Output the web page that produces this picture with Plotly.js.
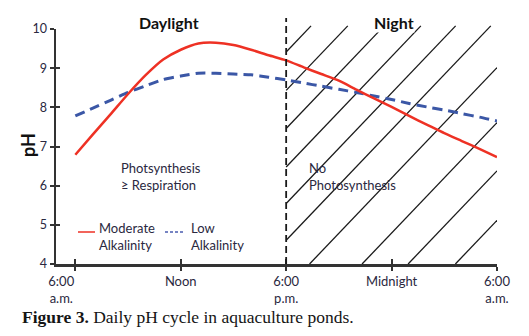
<!DOCTYPE html>
<html><head><meta charset="utf-8">
<script src="https://cdn.plot.ly/plotly-3.0.1.min.js"></script>
<style>html,body{margin:0;padding:0;background:#fff}#chart{width:529px;height:336px}</style>
</head><body><div id="chart"></div>
<script>
// ---- data ----
const hours = [6,7,8,9,10,11,12,13,14,15,16,17,18,19,20,21,22,23,24,25,26,27,28,29,30];
const moderateAlk = [6.79,7.31,7.82,8.34,8.82,9.22,9.47,9.63,9.65,9.59,9.47,9.33,9.20,9.02,8.85,8.68,8.45,8.23,8.01,7.78,7.56,7.34,7.14,6.94,6.73];
const lowAlk = [7.78,7.98,8.18,8.38,8.55,8.71,8.80,8.87,8.87,8.85,8.83,8.77,8.70,8.62,8.54,8.46,8.38,8.29,8.20,8.10,8.01,7.93,7.84,7.75,7.65];
const seriesNames = ['Moderate<br>Alkalinity', 'Low<br>Alkalinity'];
const tickHours = [6,12,18,24,30];
const tickLabels = ['6:00<br>a.m.','Noon','6:00<br>p.m.','Midnight','6:00<br>a.m.'];
const labelHours = [5.2,12,18,24,30];
const yTicks = [4,5,6,7,8,9,10];
const nightStart = 18;
const hatchIntercepts = [6.48,8.57,10.64,12.73,14.71,16.71,19.33,22.32,24.94,27.63];

// ---- geometry / style ----
const W = 529, H = 336, ML = 56, MR = 32, MT = 29, MB = 72;
const PW = W - ML - MR, PH = H - MT - MB;
const xRange = [4.9, 30], yRange = [4, 10];
const px2x = p => (p - ML) / PW;
const py2y = p => (H - MB - p) / PH;
const ph2paper = v => (v - yRange[0]) / (yRange[1] - yRange[0]);
const RED = '#ee3124', BLUE = '#3b57a6', INK = '#2a2840', AX = '#333333';
const FONT = 'Lato, "Open Sans", sans-serif';

const traces = [
  {x: hours, y: lowAlk, mode: 'lines', name: seriesNames[1],
   line: {color: BLUE, width: 3, dash: '10px,6px', shape: 'spline', smoothing: 0.6}, hoverinfo: 'skip'},
  {x: hours, y: moderateAlk, mode: 'lines', name: seriesNames[0],
   line: {color: RED, width: 2.5, shape: 'spline', smoothing: 0.6}, hoverinfo: 'skip'},
  {x: [], y: [], xaxis: 'x2', yaxis: 'y2', showlegend: false, hoverinfo: 'skip'},
  {x: [], y: [], xaxis: 'x3', yaxis: 'y', showlegend: false, hoverinfo: 'skip'}
];

const shapes = [];
// hatching of the night region
const k = 0.47, hatchTop = 10.08;
hatchIntercepts.forEach(x0 => {
  const xs = Math.max(nightStart, x0), ys = 4 + k * (xs - x0);
  let xe = x0 + (hatchTop - 4) / k, ye = hatchTop;
  if (xe > xRange[1]) { xe = xRange[1]; ye = 4 + k * (xe - x0); }
  shapes.push({type: 'line', xref: 'x', yref: 'paper', x0: xs, y0: ph2paper(ys), x1: xe, y1: ph2paper(ye),
    line: {color: '#1a1a1a', width: 1.3}, layer: 'below'});
});
// day/night divider
shapes.push({type: 'line', xref: 'x', yref: 'paper', x0: nightStart, x1: nightStart, y0: 0, y1: ph2paper(10.28),
  line: {color: '#1a1a1a', width: 1.8, dash: '7px,4px'}});
// legend swatches
shapes.push({type: 'line', xref: 'paper', yref: 'paper', x0: px2x(78), x1: px2x(95), y0: py2y(232), y1: py2y(232),
  line: {color: RED, width: 1.5}});
shapes.push({type: 'line', xref: 'paper', yref: 'paper', x0: px2x(165), x1: px2x(185), y0: py2y(232), y1: py2y(232),
  line: {color: '#4a5cb0', width: 1.5, dash: '3px,2px'}});

const ann = (text, px, py, opts = {}) => Object.assign({
  text, xref: 'paper', yref: 'paper', x: px2x(px), y: py2y(py), showarrow: false,
  xanchor: 'left', yanchor: 'middle', align: 'left',
  font: {family: FONT, size: 13, color: INK}
}, opts);

const annotations = [
  ann('<b>Daylight</b>', 169, 23, {xanchor: 'center', font: {family: FONT, size: 16, color: '#111'}}),
  ann('<b>Night</b>', 394, 22, {xanchor: 'center', bgcolor: '#fff', borderpad: 0, font: {family: FONT, size: 16, color: '#111'}}),
  ann('Photsynthesis<br>≥ Respiration', 119, 176),
  ann('No<br>Photosynthesis', 307, 176),
  ann(seriesNames[0], 97, 236),
  ann(seriesNames[1], 189, 236),
  ann('<b>pH</b>', 28, 145, {xanchor: 'center', textangle: -90, font: {family: FONT, size: 18, color: '#111'}}),
  ann('<b>Figure 3.</b> Daily pH cycle in aquaculture ponds.', 20, 317,
      {font: {family: '"Liberation Serif", "DejaVu Serif", serif', size: 17.5, color: '#151515'}})
];

const baseX = {range: xRange, showgrid: false, zeroline: false, fixedrange: true, tickvals: tickHours};
const layout = {
  width: W, height: H, margin: {l: ML, r: MR, t: MT, b: MB},
  paper_bgcolor: '#fff', plot_bgcolor: '#fff', showlegend: false,
  xaxis: Object.assign({}, baseX, {showline: true, linecolor: AX, linewidth: 2.5,
    ticks: 'outside', ticklen: 4, tickwidth: 2, tickcolor: AX, showticklabels: false}),
  xaxis2: Object.assign({}, baseX, {overlaying: 'x', anchor: 'y', side: 'bottom',
    ticks: 'inside', ticklen: 5, tickwidth: 2, tickcolor: AX, showticklabels: false, showline: false}),
  xaxis3: {range: xRange, overlaying: 'x', anchor: 'y', side: 'bottom', showgrid: false, zeroline: false,
    showline: false, ticks: '', tickvals: labelHours, ticktext: tickLabels, ticklabelstandoff: 8,
    tickfont: {family: FONT, size: 13, color: INK}},
  yaxis: {range: yRange, showgrid: false, zeroline: false, fixedrange: true, tickvals: yTicks,
    showline: true, linecolor: AX, linewidth: 2.5, ticks: 'outside', ticklen: 4, tickwidth: 2, tickcolor: AX,
    tickfont: {family: FONT, size: 12.5, color: INK}},
  yaxis2: {range: yRange, overlaying: 'y', anchor: 'x', side: 'left', showgrid: false, zeroline: false,
    showline: false, tickvals: yTicks, ticks: 'inside', ticklen: 4, tickwidth: 2, tickcolor: AX, showticklabels: false},
  shapes, annotations
};

Plotly.newPlot('chart', traces, layout, {staticPlot: true, displayModeBar: false});
</script>
</body></html>
